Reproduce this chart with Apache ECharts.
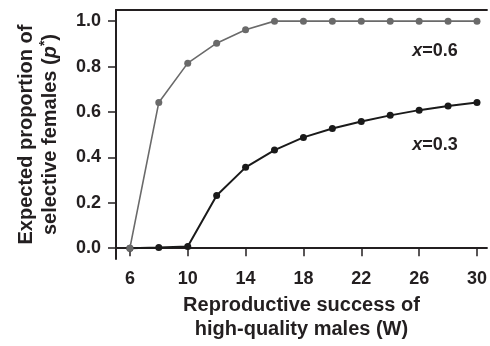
<!DOCTYPE html>
<html>
<head>
<meta charset="utf-8">
<script src="https://cdn.jsdelivr.net/npm/echarts@6/dist/echarts.min.js"></script>
<style>html,body{margin:0;padding:0;background:#fff}#c{width:490px;height:346px}</style>
</head>
<body>
<div id="c"></div>
<script>
const W = [6, 8, 10, 12, 14, 16, 18, 20, 22, 24, 26, 28, 30];
const p06 = [0.0, 0.642, 0.815, 0.903, 0.962, 1.0, 1.0, 1.0, 1.0, 1.0, 1.0, 1.0, 1.0];
const p03 = [0.0, 0.003, 0.008, 0.232, 0.356, 0.432, 0.488, 0.527, 0.558, 0.585, 0.608, 0.626, 0.642];
const xTicks = [6, 10, 14, 18, 22, 26, 30];
const yTicks = [0, 0.2, 0.4, 0.6, 0.8, 1.0];
const seriesNames = ['x=0.3', 'x=0.6'];

const FONT = '"Liberation Sans", Arial, sans-serif';
const TXT = '#231f20';
const chart = echarts.init(document.getElementById('c'), null, {renderer: 'canvas'});

const toPairs = arr => W.map((w, i) => [w, arr[i]]);

chart.setOption({
  animation: false,
  grid: {left: 116, top: 10, right: 0, bottom: 84, containLabel: false},
  xAxis: [{
    type: 'value', min: 5.04, max: 30.69,
    axisLine: {show: true, lineStyle: {color: TXT, width: 2}},
    axisTick: {show: true, customValues: xTicks, length: 8, inside: false, lineStyle: {color: TXT, width: 1.5}},
    axisLabel: {customValues: xTicks, margin: 11, fontFamily: FONT, fontWeight: 'bold', fontSize: 18, color: TXT},
    splitLine: {show: false},
    name: 'Reproductive success of\nhigh-quality males (W)',
    nameLocation: 'middle', nameGap: 33,
    nameTextStyle: {fontFamily: FONT, fontWeight: 'bold', fontSize: 20, color: TXT, lineHeight: 24}
  }, {
    type: 'value', position: 'top', min: 5.04, max: 30.69,
    axisLine: {show: true, lineStyle: {color: TXT, width: 2}},
    axisTick: {show: false}, axisLabel: {show: false}, splitLine: {show: false}
  }],
  yAxis: {
    type: 'value', min: -0.048, max: 1.049,
    axisLine: {show: true, lineStyle: {color: TXT, width: 2}},
    axisTick: {show: true, customValues: yTicks, length: 8, lineStyle: {color: TXT, width: 1.5}},
    axisLabel: {customValues: yTicks, margin: 15, fontFamily: FONT, fontWeight: 'bold', fontSize: 18, color: TXT,
      formatter: v => v.toFixed(1)},
    splitLine: {show: false},
    name: '{n|Expected proportion of}\n{n|selective females (}{i|p}{s|*}{n|)}',
    nameLocation: 'middle', nameGap: 54, nameRotate: 90,
    nameTextStyle: {
      color: TXT, lineHeight: 24,
      rich: {
        n: {fontFamily: FONT, fontWeight: 'bold', fontSize: 20, color: TXT, lineHeight: 24},
        i: {fontFamily: FONT, fontWeight: 'bold', fontStyle: 'italic', fontSize: 20, color: TXT, lineHeight: 24},
        s: {fontFamily: FONT, fontWeight: 'bold', fontSize: 14, color: TXT, lineHeight: 24, verticalAlign: 'top', padding: [0, 0, 6, 0]}
      }
    }
  },
  series: [{
    name: seriesNames[0], type: 'line', data: toPairs(p03),
    symbol: 'circle', symbolSize: 7, showSymbol: true,
    lineStyle: {color: '#1a1a1a', width: 2}, itemStyle: {color: '#1a1a1a'}, z: 2
  }, {
    name: seriesNames[1], type: 'line', data: toPairs(p06),
    symbol: 'circle', symbolSize: 7, showSymbol: true,
    lineStyle: {color: '#6a6a6a', width: 1.6}, itemStyle: {color: '#6a6a6a'}, z: 3
  }]
});

function addLabels() {
  const a = chart.convertToPixel({xAxisIndex: 0, yAxisIndex: 0}, [27.1, 0.868]);
  const b = chart.convertToPixel({xAxisIndex: 0, yAxisIndex: 0}, [27.1, 0.455]);
  const mk = (pt, val) => ({
    type: 'text', x: pt[0], y: pt[1],
    style: {
      text: '{i|x}{n|=' + val + '}', align: 'center', verticalAlign: 'middle',
      rich: {
        i: {fontFamily: FONT, fontWeight: 'bold', fontStyle: 'italic', fontSize: 18, fill: TXT},
        n: {fontFamily: FONT, fontWeight: 'bold', fontSize: 18, fill: TXT}
      }
    }
  });
  chart.setOption({graphic: [mk(a, '0.6'), mk(b, '0.3')]});
}
addLabels();
</script>
</body>
</html>
